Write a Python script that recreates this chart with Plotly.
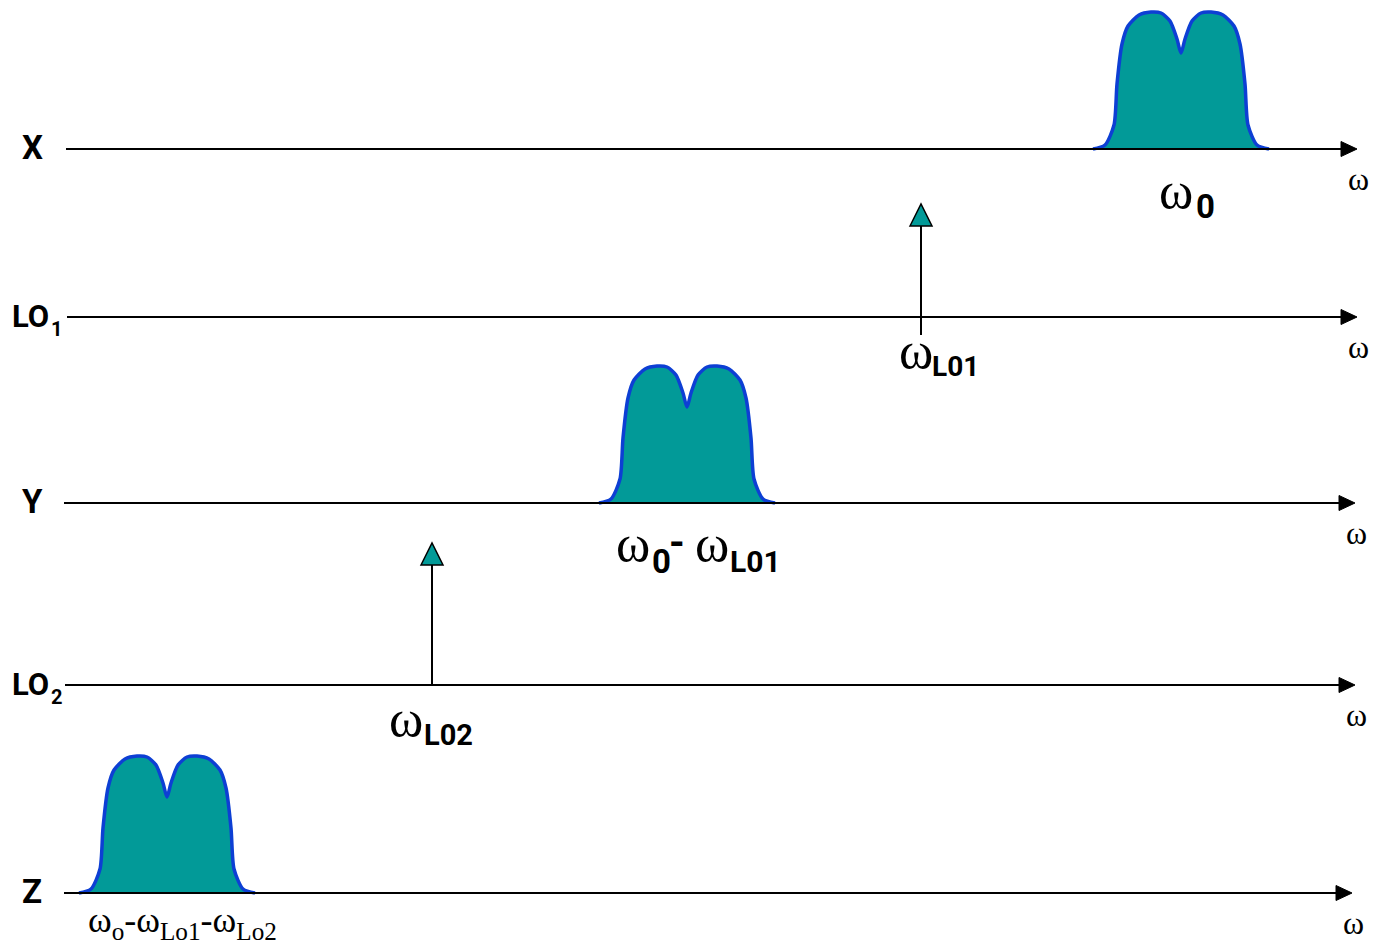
import plotly.graph_objects as go

# ---------------- data ----------------
row_labels = ["X", "LO", "Y", "LO", "Z"]
row_subs = ["", "1", "", "2", ""]
row_y = [149, 317, 503, 685, 893]          # baseline of each spectrum row
row_x_start = [66, 67, 64, 65, 64]
row_x_end = [1357, 1357, 1355, 1355, 1352]

# band (hump) centres on rows X, Y, Z
band_rows = [0, 2, 4]
band_centres = [1181, 687, 167]
# measured hump profile (offset from centre, height above baseline)
profile_dx = [-88, -76, -67, -64, -59, -53, -42, -30, -20, -11, -4, 0, 4, 11, 20, 30, 42, 53, 59, 64, 67, 76, 88]
profile_h = [0, 4, 24, 65, 105, 123, 134, 137, 136, 128, 110, 96, 110, 128, 136, 137, 134, 123, 105, 65, 24, 4, 0]

# local-oscillator tones
lo_rows = [1, 3]
lo_freq = [921, 432]
lo_top = [204, 543]
lo_bottom = [335, 685]

TEAL = "#029a98"
BLUE = "#0d3fd4"
SANS = "Roboto"
SERIF = "Liberation Serif"
OFF = 8  # page body margin

fig = go.Figure()
shapes = []
ann = []

# axes with arrow heads
for y, xs, xe in zip(row_y, row_x_start, row_x_end):
    shapes.append(dict(type="line", x0=xs, x1=xe - 12, y0=y, y1=y, xref="x", yref="y",
                       line=dict(color="black", width=2)))
    shapes.append(dict(type="path", xref="x", yref="y",
                       path=f"M {xe-16} {y-7.5} L {xe} {y} L {xe-16} {y+7.5} Z",
                       fillcolor="black", line=dict(color="black", width=1)))
    ann.append(dict(x=xe + 1, y=y + 30, text="ω", showarrow=False, xanchor="center", yanchor="middle",
                    font=dict(family=SERIF, size=32, color="black")))

# row labels
for lbl, sub, y in zip(row_labels, row_subs, row_y):
    if sub:
        ann.append(dict(x=51, y=y - 1, text=f"<b>{lbl}</b>", showarrow=False, xanchor="right", yanchor="middle",
                        font=dict(family=SANS, size=31, color="black")))
        ann.append(dict(x=49, y=y + 12, text=f"<b>{sub}</b>", showarrow=False, xanchor="left", yanchor="middle",
                        font=dict(family=SANS, size=20, color="black")))
    else:
        ann.append(dict(x=32, y=y - 2, text=f"<b>{lbl}</b>", showarrow=False, xanchor="center", yanchor="middle",
                        font=dict(family=SANS, size=33, color="black")))

# humps
for r, c in zip(band_rows, band_centres):
    base = row_y[r]
    xs = [c + d for d in profile_dx]
    ys = [base - h for h in profile_h]
    fig.add_trace(go.Scatter(x=xs, y=ys, mode="lines", fill="toself", fillcolor=TEAL,
                             line=dict(color=BLUE, width=3.5, shape="spline", smoothing=0.7),
                             hoverinfo="skip", showlegend=False))

# LO arrows
for r, f, top, bot in zip(lo_rows, lo_freq, lo_top, lo_bottom):
    shapes.append(dict(type="line", x0=f, x1=f, y0=top + 20, y1=bot, xref="x", yref="y",
                       line=dict(color="black", width=2)))
    shapes.append(dict(type="path", xref="x", yref="y",
                       path=f"M {f-11} {top+22} L {f} {top} L {f+11} {top+22} Z",
                       fillcolor=TEAL, line=dict(color="black", width=1.5)))

# frequency labels
def omega(x, y, sub, sx, sy, size=52, subsize=32):
    ann.append(dict(x=x, y=y, text="ω", showarrow=False, xanchor="center", yanchor="middle",
                    font=dict(family=SERIF, size=size, color="black")))
    ann.append(dict(x=sx, y=sy, text=f"<b>{sub}</b>", showarrow=False, xanchor="left", yanchor="middle",
                    font=dict(family=SANS, size=subsize, color="black")))

omega(1176, 190, "0", 1194, 206, subsize=33)
omega(916, 350, "L01", 930, 366, subsize=28)
omega(633, 543, "0", 650, 561, subsize=33)
ann.append(dict(x=677, y=542, text="<b>-</b>", showarrow=False, xanchor="center", yanchor="middle",
                font=dict(family=SANS, size=40, color="black")))
omega(712, 543, "L01", 728, 561, subsize=30)
omega(406, 718, "L02", 422, 735, subsize=29)

ann.append(dict(x=182, y=922,
                text="ω<sub>o</sub>-ω<sub>Lo1</sub>-ω<sub>Lo2</sub>",
                showarrow=False, xanchor="center", yanchor="middle",
                font=dict(family=SERIF, size=36, color="black")))

fig.update_layout(
    width=1384, height=948,
    margin=dict(l=0, r=0, t=0, b=0),
    paper_bgcolor="white", plot_bgcolor="white",
    xaxis=dict(range=[OFF, 1384 + OFF], visible=False, fixedrange=True),
    yaxis=dict(range=[948 + OFF, OFF], visible=False, fixedrange=True),
    shapes=shapes, annotations=ann, showlegend=False,
)
fig.write_html("out.html", config={"displayModeBar": False})
